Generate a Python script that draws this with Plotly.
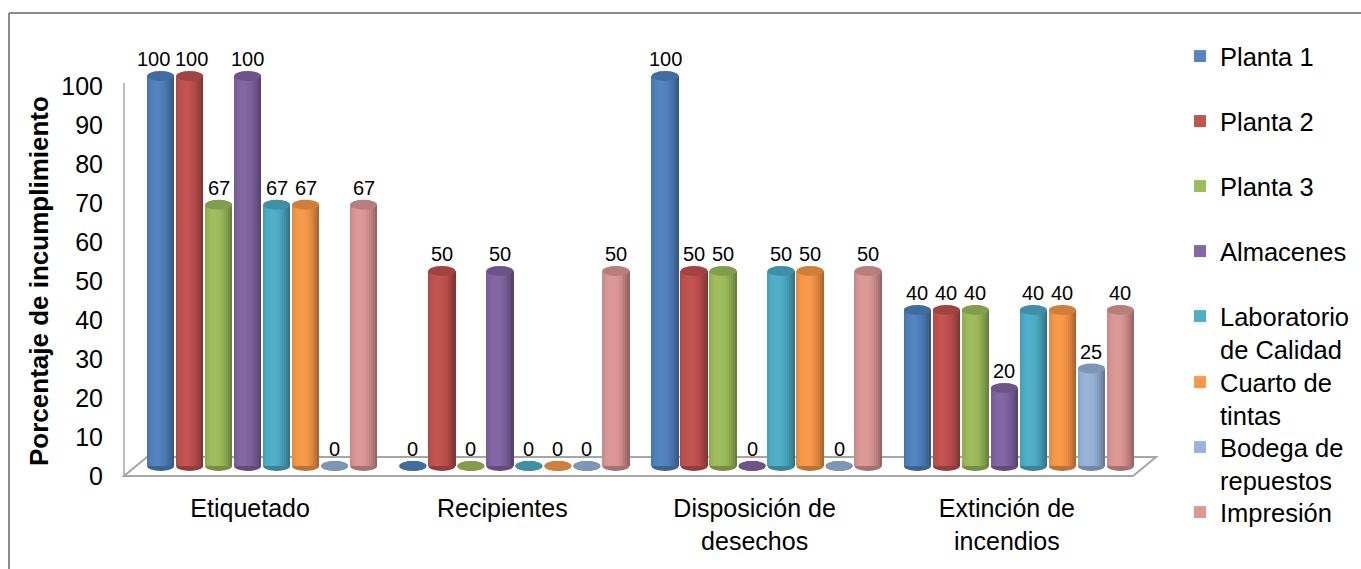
import plotly.graph_objects as go

# ---- data ----
categories = ["Etiquetado", "Recipientes", "Disposición de<br>desechos", "Extinción de<br>incendios"]
series_names = ["Planta 1", "Planta 2", "Planta 3", "Almacenes",
                "Laboratorio<br>de Calidad", "Cuarto de<br>tintas", "Bodega de<br>repuestos", "Impresión"]
planta_1 = [100, 0, 100, 40]
planta_2 = [100, 50, 50, 40]
planta_3 = [67, 0, 50, 40]
almacenes = [100, 50, 0, 20]
laboratorio_calidad = [67, 0, 50, 40]
cuarto_tintas = [67, 0, 50, 40]
bodega_repuestos = [0, 0, 0, 25]
impresion = [67, 50, 50, 40]
y_ticks = list(range(0, 101, 10))
y_title = "Porcentaje de incumplimiento"

series_values = [planta_1, planta_2, planta_3, almacenes,
                 laboratorio_calidad, cuarto_tintas, bodega_repuestos, impresion]
series_colors = ["#4F81BD", "#C0504D", "#9BBB59", "#8064A2",
                 "#4BACC6", "#F79646", "#95B3D7", "#D99694"]

# ---- geometry (pixels) ----
FIG_W, FIG_H = 1361, 569
L, R, T, B = 118, 1165, 55, 482
PLOT_W, PLOT_H = R - L, B - T
FRONT_X0, FRONT_Y0 = 124, 476        # front-left corner of the floor
PX_PER_CAT = 252.25
PX_PER_PCT = 3.9
DEPTH_X, DEPTH_Y = 23, 19            # floor depth
BAR_DX, BAR_DY = 12, 10              # bars sit mid-depth on the floor
SLOT_PX = 29
SLOT = SLOT_PX / PX_PER_CAT
BAR_W = 27 / PX_PER_CAT
CAP_H = 10 / PX_PER_PCT
N_STRIPS = 14
LABEL_SIZE = 20

FONT = "Liberation Sans, Arial, sans-serif"


def hex_rgb(h):
    h = h.lstrip("#")
    return [int(h[i:i + 2], 16) for i in (0, 2, 4)]


def shade(h, f):
    r = hex_rgb(h)
    if f <= 1:
        c = [v * f for v in r]
    else:
        c = [v + (255 - v) * (f - 1) for v in r]
    return "rgb(%d,%d,%d)" % tuple(max(0, min(255, round(v))) for v in c)


def light(t):
    # brightness across a cylinder, left (0) to right (1)
    return 1.03 - 0.95 * (t - 0.36) ** 2


x_rng = [(L - FRONT_X0) / PX_PER_CAT - 0.5, (R - FRONT_X0) / PX_PER_CAT - 0.5]
y_rng = [(FRONT_Y0 - B) / PX_PER_PCT, (FRONT_Y0 - T) / PX_PER_PCT]
x2_rng = [x_rng[0] - BAR_DX / PX_PER_CAT, x_rng[1] - BAR_DX / PX_PER_CAT]
y2_rng = [y_rng[0] - BAR_DY / PX_PER_PCT, y_rng[1] - BAR_DY / PX_PER_PCT]


def px_to_paper_x(px):
    return (px - L) / PLOT_W


def px_to_paper_y(py):
    return (B - py) / PLOT_H


fig = go.Figure()
shapes = []
annotations = []

# floor and wall edge
dxu = DEPTH_X / PX_PER_CAT
dyu = DEPTH_Y / PX_PER_PCT
shapes.append(dict(
    type="path", xref="x", yref="y", layer="below",
    path=f"M {-0.5},0 L {3.5},0 L {3.5 + dxu},{dyu} L {-0.5 + dxu},{dyu} Z",
    line=dict(color="#A6A6A6", width=2), fillcolor="white"))
shapes.append(dict(
    type="line", xref="x", yref="y", layer="below",
    x0=-0.5, x1=-0.5, y0=0, y1=(FRONT_Y0 - 83) / PX_PER_PCT,
    line=dict(color="#A6A6A6", width=1.5)))

n_series = len(series_values)
cat_idx = list(range(len(categories)))
strip_w = BAR_W / N_STRIPS
legend_strip = 4

for j, (name, vals, col) in enumerate(zip(series_names, series_values, series_colors)):
    centers = [i + (j - (n_series - 1) / 2) * SLOT for i in cat_idx]
    for k in range(N_STRIPS):
        t = (k + 0.5) / N_STRIPS
        xs = [c - BAR_W / 2 + (k + 0.5) * strip_w for c in centers]
        fig.add_trace(go.Bar(
            x=xs, y=vals, width=strip_w * 1.15,
            xaxis="x2", yaxis="y2",
            marker=dict(color=shade(col, light(t)), line=dict(width=0)),
            name=name,
            legend="legend" if j == 0 else f"legend{j + 1}",
            showlegend=(k == legend_strip),
            hoverinfo="skip",
        ))
    for c, v in zip(centers, vals):
        # rounded bottom and top cap of each cylinder
        shapes.append(dict(
            type="circle", xref="x2", yref="y2", layer="below",
            x0=c - BAR_W / 2, x1=c + BAR_W / 2, y0=-CAP_H / 2, y1=CAP_H / 2,
            fillcolor=shade(col, 0.76), line=dict(width=0)))
        shapes.append(dict(
            type="circle", xref="x2", yref="y2", layer="above",
            x0=c - BAR_W / 2, x1=c + BAR_W / 2, y0=v - CAP_H / 2, y1=v + CAP_H / 2,
            fillcolor=shade(col, 0.84), line=dict(width=0)))

# value labels; neighbours at the same height that would touch are nudged apart
for i in cat_idx:
    vals_i = [vals[i] for vals in series_values]
    shifts = [0.0] * n_series
    for j in range(1, n_series):
        a, b = vals_i[j - 1], vals_i[j]
        if a == b:
            w = 0.556 * LABEL_SIZE * len(str(a))
            overlap = w + 5 - SLOT_PX
            if overlap > 0:
                shifts[j - 1] -= overlap * 0.75
                shifts[j] += overlap * 0.25
    for j, v in enumerate(vals_i):
        c = i + (j - (n_series - 1) / 2) * SLOT
        annotations.append(dict(
            xref="x2", yref="y2", x=c, y=v, text=str(v), showarrow=False,
            xshift=shifts[j], yshift=17,
            font=dict(family=FONT, size=LABEL_SIZE, color="black")))

# vertical axis title
annotations.append(dict(
    xref="paper", yref="paper", x=px_to_paper_x(39), y=px_to_paper_y(281),
    xanchor="center", yanchor="middle", textangle=-90, showarrow=False,
    text=f"<b>{y_title}</b>", font=dict(family=FONT, size=26, color="black")))

# chart frame (left and top edges)
shapes.append(dict(type="line", xref="paper", yref="paper",
                   x0=px_to_paper_x(9), x1=px_to_paper_x(9),
                   y0=px_to_paper_y(13), y1=px_to_paper_y(600),
                   line=dict(color="#8C8C8C", width=2)))
shapes.append(dict(type="line", xref="paper", yref="paper",
                   x0=px_to_paper_x(9), x1=px_to_paper_x(1400),
                   y0=px_to_paper_y(13), y1=px_to_paper_y(13),
                   line=dict(color="#8C8C8C", width=2)))

# one legend box per entry, evenly stacked
legend_centers = [57, 122, 187, 252, 317, 383, 448, 513]
legend_layout = {}
for j, cy in enumerate(legend_centers):
    key = "legend" if j == 0 else f"legend{j + 1}"
    legend_layout[key] = dict(
        x=px_to_paper_x(1180), xanchor="left",
        y=px_to_paper_y(cy - 24), yanchor="top",
        valign="top", bgcolor="rgba(0,0,0,0)",
        font=dict(family=FONT, size=25.5, color="black"),
        itemclick=False, itemdoubleclick=False,
    )

fig.update_layout(
    width=FIG_W, height=FIG_H, autosize=False,
    margin=dict(l=L, r=FIG_W - R, t=T, b=FIG_H - B, autoexpand=False),
    paper_bgcolor="white", plot_bgcolor="white",
    barmode="overlay", bargap=0,
    font=dict(family=FONT, color="black"),
    xaxis=dict(range=x_rng, tickmode="array", tickvals=cat_idx, ticktext=categories,
               showgrid=False, zeroline=False, showline=False, ticks="",
               ticklabelstandoff=9, tickfont=dict(family=FONT, size=25, color="black"),
               fixedrange=True),
    yaxis=dict(range=y_rng, tickmode="array", tickvals=y_ticks,
               showgrid=False, zeroline=False, showline=False, ticks="",
               ticklabelstandoff=14, tickfont=dict(family=FONT, size=25, color="black"),
               fixedrange=True),
    xaxis2=dict(range=x2_rng, overlaying="x", visible=False, fixedrange=True),
    yaxis2=dict(range=y2_rng, overlaying="y", visible=False, fixedrange=True),
    shapes=shapes,
    annotations=annotations,
    **legend_layout,
)

fig.write_html("out.html")
